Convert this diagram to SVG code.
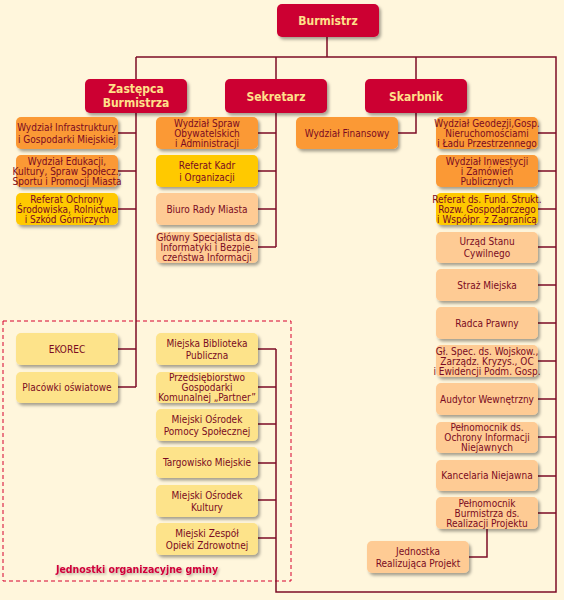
<svg xmlns="http://www.w3.org/2000/svg" width="564" height="600" viewBox="0 0 564 600">
<defs>
<filter id="sh" x="-10%" y="-20%" width="130%" height="160%">
<feDropShadow dx="2" dy="2.5" stdDeviation="1.5" flood-color="#000" flood-opacity="0.35"/>
</filter>
<filter id="tsh" x="-5%" y="-30%" width="110%" height="180%">
<feDropShadow dx="1.5" dy="1.5" stdDeviation="1" flood-color="#000" flood-opacity="0.3"/>
</filter>
<style>
.b{stroke:none;filter:url(#sh)}
.hd{fill:#cc0033}
.or{fill:#fb9934}
.gd{fill:#ffc905}
.pc{fill:#fecb94}
.ly{fill:#fde38a}
.t{font-family:"DejaVu Sans Condensed","Liberation Sans Narrow","Liberation Sans",sans-serif;font-size:10px;fill:#7a0a22;text-anchor:middle}
.h{font-family:"DejaVu Sans Condensed","Liberation Sans",sans-serif;font-size:12px;font-weight:bold;fill:#ffe08a;text-anchor:middle}
.lbl{font-family:"DejaVu Sans Condensed","Liberation Sans",sans-serif;font-size:11px;font-weight:bold;fill:#d0003a;text-anchor:middle;filter:url(#tsh)}
.c{fill:none;stroke:#7d0c26;stroke-width:1.5}
</style>
</defs>
<rect x="0" y="0" width="564" height="600" fill="#fff6dc"/>
<rect x="3" y="321" width="288" height="260" fill="none" stroke="#d6002f" stroke-width="1" stroke-dasharray="4,3"/>
<text class="lbl" x="137" y="573" textLength="162" lengthAdjust="spacingAndGlyphs">Jednostki organizacyjne gminy</text>

<g id="connectors" class="c">
<path d="M327,37V57M136,57H556V592H276V349"/>
<path d="M136,57V79M136,113V387"/>
<path d="M276,57V79M276,113V247"/>
<path d="M416,57V79M416,113V133H398"/>
<path d="M118,133H136M118,171H136M118,209H136M118,349H136M118,387H136"/>
<path d="M258,133H276M258,171H276M258,209H276M258,247H276"/>
<path d="M258,349H276M258,387H276M258,424H276M258,463H276M258,500H276M258,538H276"/>
<path d="M538,133H556M538,171H556M538,209H556M538,247H556M538,285H556M538,323H556M538,361H556M538,399H556M538,437H556M538,476H556M538,513H556"/>
<path d="M487,529V557H469"/>
</g>

<g id="burmistrz"><rect class="b hd" x="277" y="4" width="102" height="33" rx="5"/><text class="h" x="328" y="25">Burmistrz</text></g>
<g id="zastepca"><rect class="b hd" x="85" y="79" width="102" height="34" rx="5"/><text class="h" x="136"><tspan x="136" y="92.5">Zastępca</tspan><tspan x="136" y="106.5">Burmistrza</tspan></text></g>
<g id="sekretarz"><rect class="b hd" x="225" y="79" width="102" height="34" rx="5"/><text class="h" x="276" y="100.5">Sekretarz</text></g>
<g id="skarbnik"><rect class="b hd" x="365" y="79" width="102" height="34" rx="5"/><text class="h" x="416" y="100.5">Skarbnik</text></g>

<g id="infrastruktura"><rect class="b or" x="16" y="117" width="102" height="32" rx="5"/><text class="t"><tspan x="67" y="130.5">Wydział Infrastruktury</tspan><tspan x="67" y="142.5">i Gospodarki Miejskiej</tspan></text></g>
<g id="edukacja"><rect class="b or" x="16" y="155" width="102" height="32" rx="5"/><text class="t"><tspan x="67" y="164.5">Wydział Edukacji,</tspan><tspan x="67" y="174.5">Kultury, Spraw Społecz.,</tspan><tspan x="67" y="184.5">Sportu i Promocji Miasta</tspan></text></g>
<g id="ochrona"><rect class="b gd" x="16" y="193" width="102" height="32" rx="5"/><text class="t"><tspan x="67" y="202.5">Referat Ochrony</tspan><tspan x="67" y="212.5">Środowiska, Rolnictwa</tspan><tspan x="67" y="222.5">i Szkód Górniczych</tspan></text></g>
<g id="ekorec"><rect class="b ly" x="16" y="333" width="102" height="32" rx="5"/><text class="t" x="67" y="352.5">EKOREC</text></g>
<g id="placowki"><rect class="b ly" x="16" y="372" width="102" height="31" rx="5"/><text class="t" x="67" y="391">Placówki oświatowe</text></g>

<g id="obywatelskie"><rect class="b or" x="156" y="117" width="102" height="32" rx="5"/><text class="t"><tspan x="207" y="126.5">Wydział Spraw</tspan><tspan x="207" y="136.5">Obywatelskich</tspan><tspan x="207" y="146.5">i Administracji</tspan></text></g>
<g id="kadry"><rect class="b gd" x="156" y="155" width="102" height="32" rx="5"/><text class="t"><tspan x="207" y="168.5">Referat Kadr</tspan><tspan x="207" y="180.5">i Organizacji</tspan></text></g>
<g id="biuro"><rect class="b pc" x="156" y="193" width="102" height="32" rx="5"/><text class="t" x="207" y="212.5">Biuro Rady Miasta</text></g>
<g id="informatyk"><rect class="b pc" x="156" y="232" width="102" height="31" rx="5"/><text class="t"><tspan x="207" y="241">Główny Specjalista ds.</tspan><tspan x="207" y="251">Informatyki i Bezpie-</tspan><tspan x="207" y="261">czeństwa Informacji</tspan></text></g>
<g id="biblioteka"><rect class="b ly" x="156" y="333" width="102" height="32" rx="5"/><text class="t"><tspan x="207" y="346.5">Miejska Biblioteka</tspan><tspan x="207" y="358.5">Publiczna</tspan></text></g>
<g id="partner"><rect class="b ly" x="156" y="372" width="102" height="31" rx="5"/><text class="t"><tspan x="207" y="381">Przedsiębiorstwo</tspan><tspan x="207" y="391">Gospodarki</tspan><tspan x="207" y="401">Komunalnej „Partner”</tspan></text></g>
<g id="mops"><rect class="b ly" x="156" y="409" width="102" height="32" rx="5"/><text class="t"><tspan x="207" y="422.5">Miejski Ośrodek</tspan><tspan x="207" y="434.5">Pomocy Społecznej</tspan></text></g>
<g id="targowisko"><rect class="b ly" x="156" y="447" width="102" height="31" rx="5"/><text class="t" x="207" y="466">Targowisko Miejskie</text></g>
<g id="kultura"><rect class="b ly" x="156" y="485" width="102" height="32" rx="5"/><text class="t"><tspan x="207" y="498.5">Miejski Ośrodek</tspan><tspan x="207" y="510.5">Kultury</tspan></text></g>
<g id="zdrowie"><rect class="b ly" x="156" y="523" width="102" height="32" rx="5"/><text class="t"><tspan x="207" y="536.5">Miejski Zespół</tspan><tspan x="207" y="548.5">Opieki Zdrowotnej</tspan></text></g>

<g id="finansowy"><rect class="b or" x="296" y="117" width="102" height="32" rx="5"/><text class="t" x="347" y="136.5">Wydział Finansowy</text></g>

<g id="geodezja"><rect class="b or" x="436" y="117" width="102" height="32" rx="5"/><text class="t"><tspan x="487" y="126.5">Wydział Geodezji,Gosp.</tspan><tspan x="487" y="136.5">Nieruchomościami</tspan><tspan x="487" y="146.5">i Ładu Przestrzennego</tspan></text></g>
<g id="inwestycje"><rect class="b or" x="436" y="155" width="102" height="32" rx="5"/><text class="t"><tspan x="487" y="164.5">Wydział Inwestycji</tspan><tspan x="487" y="174.5">i Zamówień</tspan><tspan x="487" y="184.5">Publicznych</tspan></text></g>
<g id="fundusze"><rect class="b gd" x="436" y="193" width="102" height="32" rx="5"/><text class="t"><tspan x="487" y="202.5">Referat ds. Fund. Strukt.</tspan><tspan x="487" y="212.5">Rozw. Gospodarczego</tspan><tspan x="487" y="222.5">i Współpr. z Zagranicą</tspan></text></g>
<g id="usc"><rect class="b pc" x="436" y="232" width="102" height="31" rx="5"/><text class="t"><tspan x="487" y="245">Urząd Stanu</tspan><tspan x="487" y="257">Cywilnego</tspan></text></g>
<g id="straz"><rect class="b pc" x="436" y="269" width="102" height="32" rx="5"/><text class="t" x="487" y="288.5">Straż Miejska</text></g>
<g id="radca"><rect class="b pc" x="436" y="307" width="102" height="32" rx="5"/><text class="t" x="487" y="326.5">Radca Prawny</text></g>
<g id="wojskowe"><rect class="b pc" x="436" y="345" width="102" height="32" rx="5"/><text class="t"><tspan x="487" y="354.5">Gł. Spec. ds. Wojskow.,</tspan><tspan x="487" y="364.5">Zarządz. Kryzys., OC</tspan><tspan x="487" y="374.5">i Ewidencji Podm. Gosp.</tspan></text></g>
<g id="audytor"><rect class="b pc" x="436" y="383" width="102" height="32" rx="5"/><text class="t" x="487" y="402.5">Audytor Wewnętrzny</text></g>
<g id="pelnomocnik-oin"><rect class="b pc" x="436" y="422" width="102" height="31" rx="5"/><text class="t"><tspan x="487" y="431">Pełnomocnik ds.</tspan><tspan x="487" y="441">Ochrony Informacji</tspan><tspan x="487" y="451">Niejawnych</tspan></text></g>
<g id="kancelaria"><rect class="b pc" x="436" y="460" width="102" height="31" rx="5"/><text class="t" x="487" y="479">Kancelaria Niejawna</text></g>
<g id="pelnomocnik-projekt"><rect class="b pc" x="436" y="497" width="102" height="32" rx="5"/><text class="t"><tspan x="487" y="506.5">Pełnomocnik</tspan><tspan x="487" y="516.5">Burmistrza ds.</tspan><tspan x="487" y="526.5">Realizacji Projektu</tspan></text></g>
<g id="jednostka"><rect class="b pc" x="367" y="541" width="102" height="32" rx="5"/><text class="t"><tspan x="418" y="554.5">Jednostka</tspan><tspan x="418" y="566.5">Realizująca Projekt</tspan></text></g>
</svg>
